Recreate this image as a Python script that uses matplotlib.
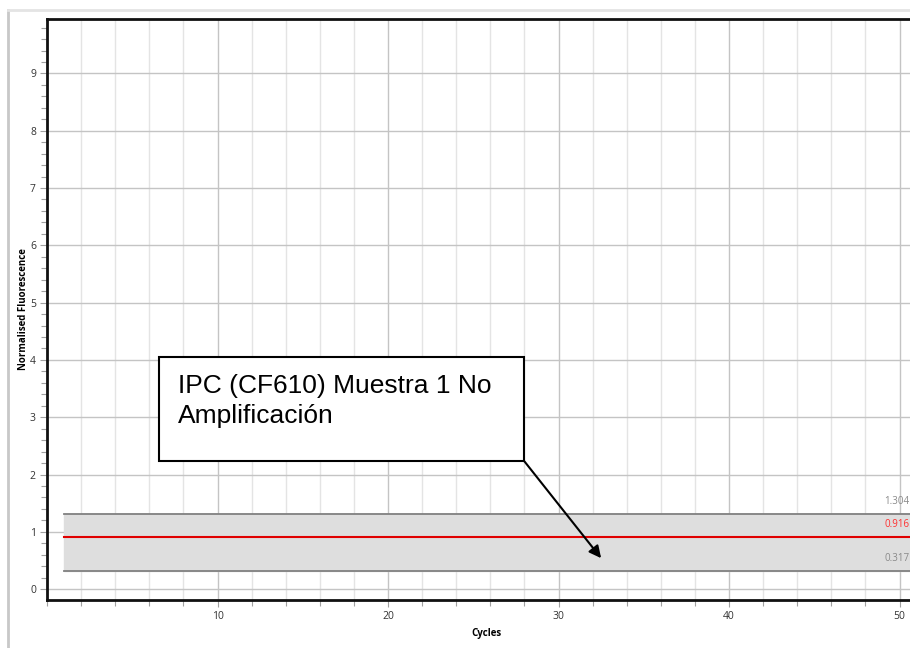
import matplotlib
matplotlib.use("Agg")
import matplotlib.pyplot as plt
from matplotlib.lines import Line2D
from matplotlib.patches import Rectangle
from matplotlib.ticker import MultipleLocator

# ---------------------------------------------------------------------------
# Data
# ---------------------------------------------------------------------------
x_ticks = [10, 20, 30, 40, 50]
y_ticks = [0, 1, 2, 3, 4, 5, 6, 7, 8, 9]
band_cycles = [1, 51]          # first / last cycle covered by the band
band_low = 0.317
band_high = 1.304
threshold = 0.916
band_labels = ["1.304", "0.916", "0.317"]
note_text = "IPC (CF610) Muestra 1 No\nAmplificación"

W, H, DPI = 910, 648, 100
fig = plt.figure(figsize=(W / DPI, H / DPI), dpi=DPI)

# axes: left spine at x=47px, top at y=19px, bottom at y=600px; right spine off-image
ax_left, ax_top, ax_bottom = 47 / W, 1 - 19 / H, 1 - 600 / H
ax_right_px = 47 + 17.05 * 51.5
ax_w = (ax_right_px - 47) / W
ax = fig.add_axes([ax_left, ax_bottom, ax_w, ax_top - ax_bottom])
ax.set_xlim(0, 51.5)
ax.set_ylim(-0.19, 9.95)

# grid
ax.xaxis.set_major_locator(MultipleLocator(10))
ax.xaxis.set_minor_locator(MultipleLocator(2))
ax.yaxis.set_major_locator(MultipleLocator(1))
ax.yaxis.set_minor_locator(MultipleLocator(0.2))
ax.set_xticks(x_ticks)
ax.set_yticks(y_ticks)
ax.grid(True, which="major", axis="both", color="#c4c4c4", lw=1.0, zorder=0)
ax.grid(True, which="minor", axis="x", color="#e4e4e4", lw=1.0, zorder=0)
ax.set_axisbelow(True)

ax.tick_params(axis="both", which="both", direction="out", colors="#a0a0a0",
               labelcolor="#333333", labelsize=7.5, width=0.8)
ax.tick_params(axis="both", which="major", length=5, pad=3)
ax.tick_params(axis="both", which="minor", length=4)
for lbl in ax.get_xticklabels() + ax.get_yticklabels():
    lbl.set_fontfamily("Open Sans")

for side in ["left", "bottom", "top"]:
    ax.spines[side].set_linewidth(2)
    ax.spines[side].set_color("#111111")
ax.spines["right"].set_visible(False)

ax.set_xlabel("Cycles", fontsize=7, fontweight="bold", family="Open Sans", labelpad=4)
ax.set_ylabel("Normalised Fluorescence", fontsize=7, fontweight="bold",
              family="Open Sans")
ax.yaxis.set_label_coords(-18 / (ax_w * W), 0.5)

# threshold band
ax.fill_between(band_cycles, band_low, band_high, color="#dedede", zorder=1)
ax.plot(band_cycles, [band_high] * 2, color="#808080", lw=1.3, zorder=2)
ax.plot(band_cycles, [band_low] * 2, color="#808080", lw=1.3, zorder=2)
ax.plot(band_cycles, [threshold] * 2, color="#e00000", lw=1.5, zorder=3)

label_y = [band_high + 0.22, threshold + 0.22, band_low + 0.22]
label_c = ["#8a8a8a", "#ff3030", "#8a8a8a"]
for txt, yy, cc in zip(band_labels, label_y, label_c):
    ax.text(49.1, yy, txt, color=cc, fontsize=7, family="Open Sans",
            va="center", ha="left", clip_on=False)

# annotation box with arrow
ax.add_patch(Rectangle((6.54, 2.23), 21.46, 1.82, facecolor="white",
                       edgecolor="black", lw=1.5, zorder=5))
ax.text(7.7, 3.76, note_text, fontsize=19, family="Liberation Sans",
        va="top", ha="left", linespacing=1.35, zorder=6)
ax.annotate("", xy=(32.5, 0.54), xytext=(28.0, 2.23),
            arrowprops=dict(arrowstyle="-|>", color="black", lw=1.5,
                            mutation_scale=18, shrinkA=0, shrinkB=0),
            zorder=6)

# window frame lines
fig.add_artist(Line2D([8 / W, 8 / W], [0, 1 - 10 / H], color="#c8c8c8", lw=2))
fig.add_artist(Line2D([8 / W, 1], [1 - 10 / H, 1 - 10 / H], color="#e4e4e4", lw=2))

fig.savefig("out.png", dpi=DPI)
